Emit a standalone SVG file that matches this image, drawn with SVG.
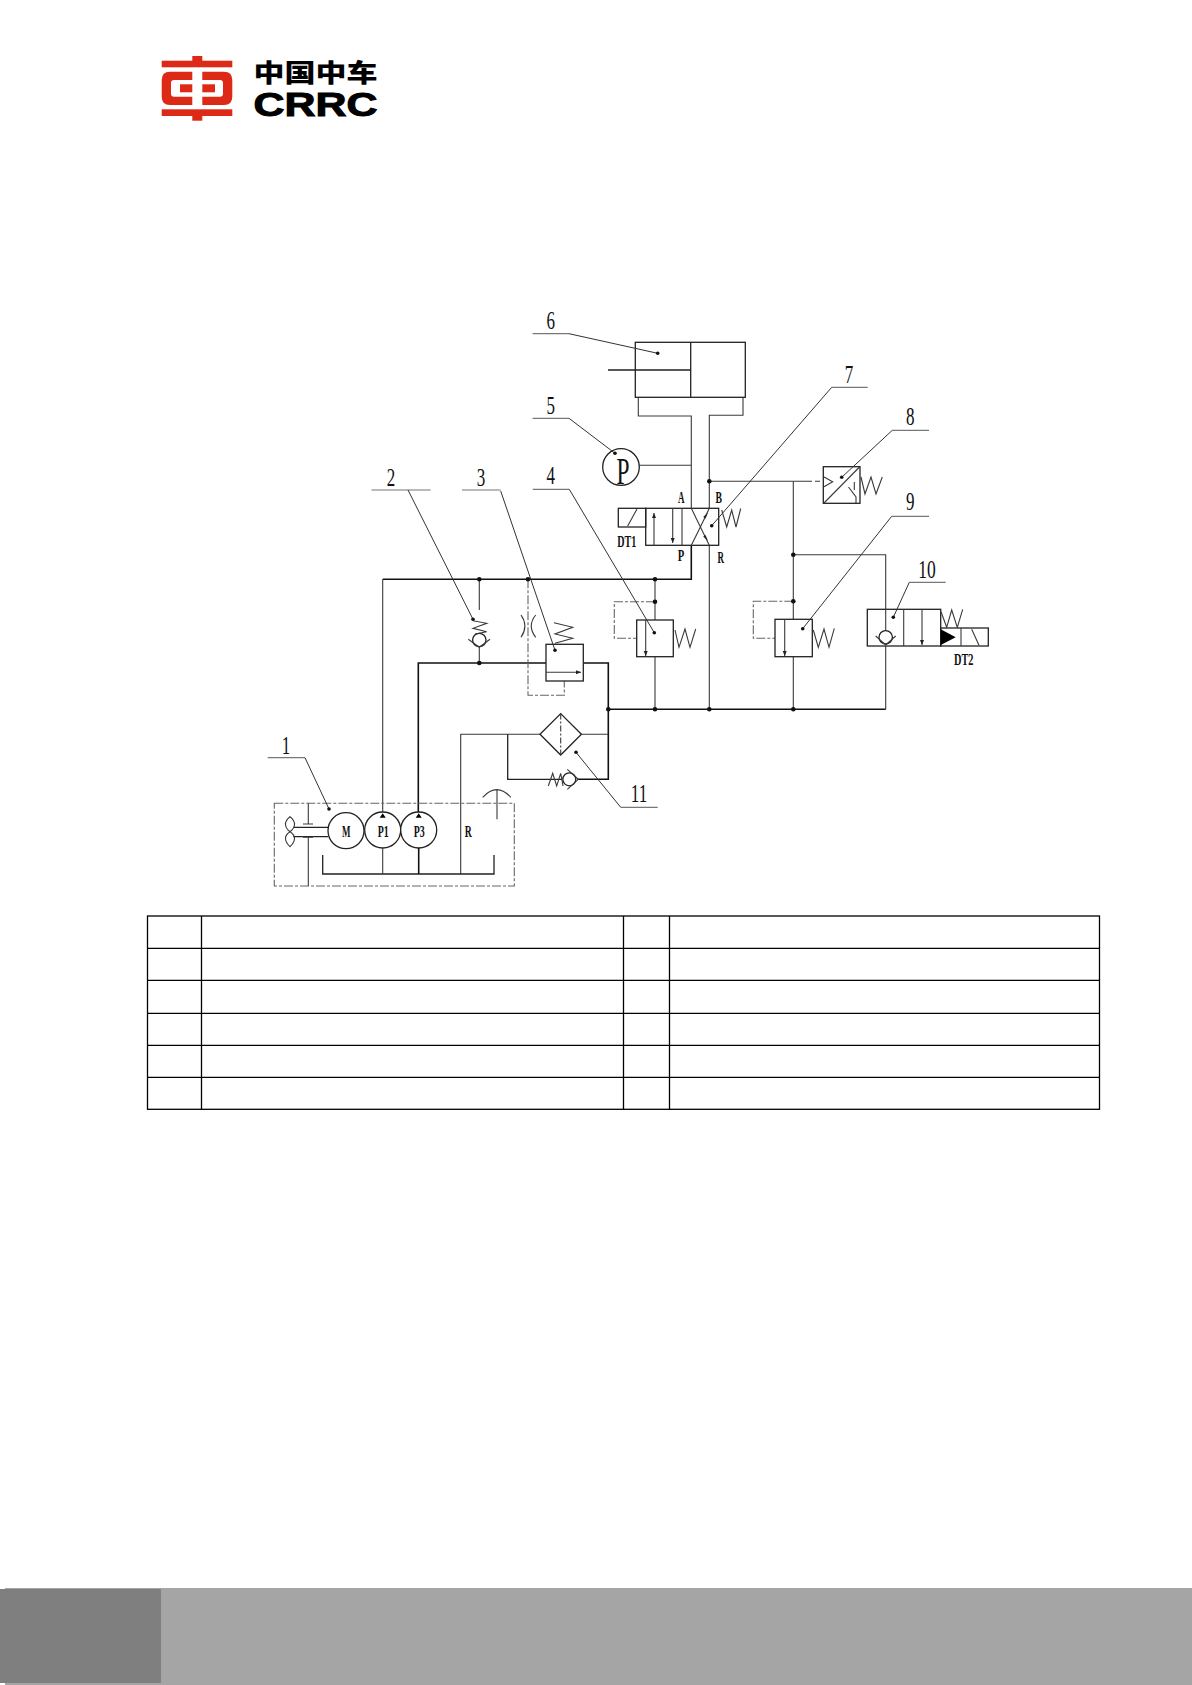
<svg xmlns="http://www.w3.org/2000/svg" width="1192" height="1685" viewBox="0 0 1192 1685">
<style>
.ln{fill:none;stroke:#3a3a3a;stroke-width:1.1}
.hv{fill:none;stroke:#111;stroke-width:1.6}
.bx{fill:#fff;stroke:#222;stroke-width:1.3}
.no{fill:none;stroke:#222;stroke-width:1.3}
.ds{fill:none;stroke:#666;stroke-width:1.1;stroke-dasharray:9 2 3 2}
.ld{fill:none;stroke:#333;stroke-width:1}
.ul{fill:none;stroke:#777;stroke-width:1.2}
.dot{fill:#111}
.num{font-family:"Liberation Serif",serif;font-size:26px;fill:#111;text-anchor:middle}
.lab{font-family:"Liberation Serif",serif;font-weight:bold;font-size:17px;fill:#111;text-anchor:middle}
.red{fill:#dc2a16}
.tb{fill:none;stroke:#000;stroke-width:1.3}
</style>
<defs>
<marker id="ah" markerWidth="6" markerHeight="6" refX="5" refY="2" orient="auto" markerUnits="userSpaceOnUse"><path d="M0 0L5 2L0 4z" fill="#222"/></marker>
</defs>
<rect width="1192" height="1685" fill="#fff"/>
<g id="logo">
<rect class="red" x="192.3" y="56" width="10" height="5"/>
<rect class="red" x="161.7" y="60.7" width="70.6" height="6.6"/>
<path class="red" d="M192.3 71.7H170Q161.7 71.7 161.7 80V96.7Q161.7 105 170 105H192.3V96.7H174Q171 96.7 171 93.7V83Q171 80 174 80H192.3z"/>
<path class="red" d="M202.3 71.7H224Q232.3 71.7 232.3 80V96.7Q232.3 105 224 105H202.3V96.7H220Q223 96.7 223 93.7V83Q223 80 220 80H202.3z"/>
<rect class="red" x="180" y="84.3" width="12.3" height="8"/>
<rect class="red" x="202.3" y="84.3" width="12.7" height="8"/>
<rect class="red" x="161.7" y="109.3" width="70.6" height="6.7"/>
<rect class="red" x="192.3" y="116" width="10" height="4.7"/>
<text x="253.5" y="81.5" font-family="'Noto Sans CJK SC',sans-serif" font-weight="900" font-size="25" textLength="124" lengthAdjust="spacingAndGlyphs" fill="#000">中国中车</text>
<text x="253.5" y="115.5" font-family="'Liberation Sans',sans-serif" font-weight="bold" font-size="34" textLength="124" lengthAdjust="spacingAndGlyphs" fill="#000" stroke="#000" stroke-width="1">CRRC</text>
</g>
<g id="connectors">
<path class="hv" d="M382.7 579.3H691.3V545.3"/>
<path class="ln" d="M382.7 813V579.3"/>
<path class="ln" d="M691.3 508.3V416H638.3V397.3"/>
<path class="ln" d="M709.3 508.3V415.3H743V397.3"/>
<path class="ln" d="M639.3 465.3H691.3"/>
<path class="ln" d="M709.3 481.3H800"/>
<path class="ln" stroke-dasharray="12 3 5 3" d="M800 481.3H823.3"/>
<path class="ln" d="M793.3 481.3V619.3M793.3 656.7V709.3"/>
<path class="ln" d="M793.3 554.7H885.7V630M885.7 644V709.3"/>
<path class="hv" d="M608.3 709.3H885.7"/>
<path class="ln" d="M709.3 545.3V709.3"/>
<path class="hv" d="M418.3 813V663H546M583.3 663H608.3V779.3H577"/>
<path class="ln" d="M479.3 579.3V610M479.3 647V663"/>
<path class="ln" d="M655 579.3V620M655 656.7V709.3"/>
<path class="ln" d="M460.7 874V734.3H540M581 734.3H608.3"/>
<path class="no" d="M507.7 734.3V779.3H562"/>
<path class="ds" d="M528 579.3V695.3H564.3V681"/>
<path class="ds" d="M655 601.7H614.3V638.3H636.7"/>
<path class="ds" d="M793.3 601.3H753.3V638.3H775"/>
</g>
<g id="n6"><rect class="bx" x="635.3" y="342.3" width="110" height="55"/><path class="no" d="M690.7 342.3V397.3M608 370H690.7"/></g>
<g id="n5"><circle class="no" cx="621" cy="467" r="18.3"/><text x="623" y="483.5" font-family="'Liberation Serif',serif" font-size="38" text-anchor="middle" textLength="13" lengthAdjust="spacingAndGlyphs" fill="#111">P</text></g>
<g id="n7">
<rect class="bx" x="645.7" y="508.3" width="73" height="37"/>
<rect class="no" x="618.3" y="508.3" width="27.4" height="18.7"/>
<path class="ln" d="M627.7 526L637 509M682 508.3V545.3"/>
<path class="ln" marker-end="url(#ah)" d="M654 545.3V513"/>
<path class="ln" marker-end="url(#ah)" d="M672.7 508.3V543"/>
<path class="ln" d="M691.3 508.3C698 522 703 532 709.3 545.3M709.3 508.3C703 522 698 532 691.3 545.3"/>
<path d="M708 512.5L705.5 518.5L703.2 517zM708 541L705.5 535L703.2 536.5z" fill="#222"/>
<path class="ln" d="M721.7 510L726.7 527L731.7 510L736 527L740.7 508.5"/>
<text class="lab" x="681.3" y="502.7" textLength="6.5" lengthAdjust="spacingAndGlyphs">A</text>
<text class="lab" x="718.7" y="502.7" textLength="6.5" lengthAdjust="spacingAndGlyphs">B</text>
<text class="lab" x="681" y="560.7" textLength="6.5" lengthAdjust="spacingAndGlyphs">P</text>
<text class="lab" x="720.7" y="563.3" textLength="6.5" lengthAdjust="spacingAndGlyphs">R</text>
<text class="lab" x="626.7" y="546.7" textLength="19" lengthAdjust="spacingAndGlyphs">DT1</text>
</g>
<g id="n8">
<rect class="bx" x="823.3" y="466.7" width="36.7" height="36.6"/>
<path class="ln" d="M824 503L859.5 467M824 477L832.7 481.7L824 486.7M854.3 482V490M848.5 487L856 497V503"/>
<path class="ln" d="M861 477L865 494L871 477L876 494L882.3 477"/>
</g>
<g id="n2">
<circle class="no" cx="479.3" cy="640" r="6.7"/>
<path class="ln" d="M468.3 639.3L479.3 647.3L490 639.3"/>
<path class="ln" d="M473 620.7L486.7 623.3L473 628.3L486.7 631.7L475 634"/>
</g>
<g id="n3">
<rect class="bx" x="546" y="644.3" width="37.3" height="36.7"/>
<path class="ln" marker-end="url(#ah)" d="M546 672.3H581"/>
<path class="ln" d="M554 622.7L572.7 627.3L555 634L572.7 638.3L555 643.3"/>
<path class="ln" d="M521 615C526 622 526 630 521 637.3M535.7 615C530 622 530 630 535.7 637.3"/>
</g>
<g id="n4">
<rect class="bx" x="636.7" y="620" width="36.6" height="36.7"/>
<path class="ln" marker-end="url(#ah)" d="M645.7 620V656"/>
<path class="ln" d="M675 630L679 647.3L685 629L690 647.3L695.7 629"/>
</g>
<g id="n9">
<rect class="bx" x="775" y="619.3" width="37.3" height="37.4"/>
<path class="ln" marker-end="url(#ah)" d="M784.7 619.3V656"/>
<path class="ln" d="M813.3 630L818.3 647.3L824 629L829 647.3L834.3 628.3"/>
</g>
<g id="n10">
<rect class="bx" x="867.3" y="609.3" width="73.4" height="36.7"/>
<path class="ln" d="M903.7 609.3V646"/>
<path class="ln" marker-end="url(#ah)" d="M922 609.3V645"/>
<path class="ln" d="M885.7 609.3V630.6"/>
<circle class="no" cx="885.7" cy="637.3" r="6.7"/>
<path class="ln" d="M875.7 636L885.7 645L895.7 636"/>
<rect class="no" x="940.7" y="628" width="47.6" height="18"/>
<path class="ln" d="M961 628V646M971.7 629.3L979 645.3"/>
<path d="M940.7 629.3V645L955.7 637.3z" fill="#000"/>
<path class="ln" d="M941 611.7L946.7 627.3L951.7 610L957.3 627.3L962.7 609.3"/>
<text class="lab" x="963.7" y="665" textLength="19.5" lengthAdjust="spacingAndGlyphs">DT2</text>
</g>
<g id="n11">
<path class="bx" d="M560.7 713.6L581.4 734.3L560.7 755L540 734.3z"/>
<path class="ln" stroke-dasharray="6 2 2 2" d="M560.7 713.6V755"/>
<circle class="bx" cx="569.3" cy="779.3" r="6.5"/>
<path class="ln" d="M567.3 769.3L578.3 779.3L567.3 789.3"/>
<path class="ln" d="M548.3 786L552.7 773.3L556.7 786L560.7 773.3L563 786"/>
</g>
<g id="n1">
<rect class="ds" x="274.3" y="803.3" width="240" height="82.7"/>
<circle class="bx" cx="346" cy="830.7" r="18"/>
<circle class="bx" cx="382.7" cy="830" r="18"/>
<circle class="bx" cx="418.7" cy="830" r="18"/>
<path d="M382.7 813.3l3 4.4h-6zM418.7 813.3l3 4.4h-6z" fill="#000"/>
<path class="no" d="M293.3 827.3H328.3M293.3 836.7H328.3"/>
<path class="ln" d="M290 816.7C283 822 285 828 290 831.7C295 828 297 822 290 816.7zM290 831.7C283 836 285 842 290 846.7C295 842 297 836 290 831.7z"/>
<path class="ln" d="M308.3 803.3V824M308.3 837.3V886M303 824H313M303 837.3H313"/>
<path class="no" d="M322.7 855V874H494V855"/>
<path class="ln" d="M382.7 848V874"/>
<path class="hv" d="M418.7 848V874"/>
<path class="ln" d="M482.7 797.3Q497 782 510.7 797.3M497 790V819.3"/>
<text class="lab" x="346.3" y="836.7" textLength="8.5" lengthAdjust="spacingAndGlyphs">M</text>
<text class="lab" x="383.3" y="836.7" textLength="11" lengthAdjust="spacingAndGlyphs">P1</text>
<text class="lab" x="419.3" y="836.7" textLength="11" lengthAdjust="spacingAndGlyphs">P3</text>
<text class="lab" x="468.3" y="837.3" textLength="7" lengthAdjust="spacingAndGlyphs">R</text>
</g>
<g id="junctions">
<circle class="dot" cx="709.3" cy="481.3" r="2.3"/><circle class="dot" cx="793.3" cy="554.7" r="2.3"/><circle class="dot" cx="793.3" cy="601.3" r="2.3"/>
<circle class="dot" cx="479.3" cy="579.3" r="2.3"/><circle class="dot" cx="528" cy="579.3" r="2.3"/><circle class="dot" cx="655" cy="579.3" r="2.3"/>
<circle class="dot" cx="655" cy="601.7" r="2.3"/><circle class="dot" cx="479.3" cy="663" r="2.3"/>
<circle class="dot" cx="608.3" cy="709.3" r="2.3"/><circle class="dot" cx="655" cy="709.3" r="2.3"/><circle class="dot" cx="709.3" cy="709.3" r="2.3"/><circle class="dot" cx="793.3" cy="709.3" r="2.3"/>
</g>
<g id="leaders">
<path class="ul" d="M267.7 757.7H305"/><path class="ld" d="M305 757.7L329 809"/><circle class="dot" cx="329" cy="809" r="1.8"/>
<path class="ul" d="M371.5 490H430.7"/><path class="ld" d="M408 490L473 619.3"/><circle class="dot" cx="473" cy="619.3" r="1.8"/>
<path class="ul" d="M462 490H500.7"/><path class="ld" d="M500.7 491L555 650.3"/><circle class="dot" cx="555" cy="650.3" r="1.8"/>
<path class="ul" d="M532.7 489.3H569.3"/><path class="ld" d="M569.3 489.3L654.3 632.7"/><circle class="dot" cx="654.3" cy="632.7" r="1.8"/>
<path class="ul" d="M532.7 418.3H569"/><path class="ld" d="M569 418.3L615 453.3"/><circle class="dot" cx="615" cy="453.3" r="1.8"/>
<path class="ul" d="M532.7 333.7H569"/><path class="ld" d="M569 333.7L657.7 353.3"/><circle class="dot" cx="657.7" cy="353.3" r="1.8"/>
<path class="ul" d="M831.7 387.3H867.7"/><path class="ld" d="M831.7 387.3L711.7 525.7"/><circle class="dot" cx="711.7" cy="525.7" r="1.8"/>
<path class="ul" d="M892.3 430.3H929"/><path class="ld" d="M892.3 430.3L841.7 477.3"/><circle class="dot" cx="841.7" cy="477.3" r="1.8"/>
<path class="ul" d="M891.7 516.3H929"/><path class="ld" d="M891.7 516.3L802.7 628.7"/><circle class="dot" cx="802.7" cy="628.7" r="1.8"/>
<path class="ul" d="M909.3 582.3H945.7"/><path class="ld" d="M909.3 582.3L893.3 617.3"/><circle class="dot" cx="893.3" cy="617.3" r="1.8"/>
<path class="ul" d="M620.7 807.3H657.7"/><path class="ld" d="M620.7 807.3L576 752.3"/><circle class="dot" cx="576" cy="752.3" r="1.8"/>
<text class="num" x="286" y="753.5" textLength="8.5" lengthAdjust="spacingAndGlyphs">1</text>
<text class="num" x="391" y="486" textLength="8.5" lengthAdjust="spacingAndGlyphs">2</text>
<text class="num" x="481" y="486" textLength="8.5" lengthAdjust="spacingAndGlyphs">3</text>
<text class="num" x="550.7" y="484" textLength="8.5" lengthAdjust="spacingAndGlyphs">4</text>
<text class="num" x="550.7" y="413.5" textLength="8.5" lengthAdjust="spacingAndGlyphs">5</text>
<text class="num" x="550.7" y="328.5" textLength="8.5" lengthAdjust="spacingAndGlyphs">6</text>
<text class="num" x="849" y="382.7" textLength="8.5" lengthAdjust="spacingAndGlyphs">7</text>
<text class="num" x="910.3" y="425" textLength="8.5" lengthAdjust="spacingAndGlyphs">8</text>
<text class="num" x="910.3" y="510" textLength="8.5" lengthAdjust="spacingAndGlyphs">9</text>
<text class="num" x="927" y="578.3" textLength="17.5" lengthAdjust="spacingAndGlyphs">10</text>
<text class="num" x="639" y="801.7" textLength="16.5" lengthAdjust="spacingAndGlyphs">11</text>
</g>
<g id="table">
<rect class="tb" x="147.5" y="916" width="952" height="193.3"/>
<path class="tb" d="M147.5 948.3H1099.5M147.5 980.3H1099.5M147.5 1013.3H1099.5M147.5 1045.3H1099.5M147.5 1077.3H1099.5M201.5 916V1109.3M623.5 916V1109.3M669.5 916V1109.3"/>
</g>
<g id="footer">
<rect x="5" y="1588" width="1187" height="97" fill="#a5a5a5"/>
<rect x="0" y="1589" width="161" height="94" fill="#7f7f7f"/>
</g>
</svg>
